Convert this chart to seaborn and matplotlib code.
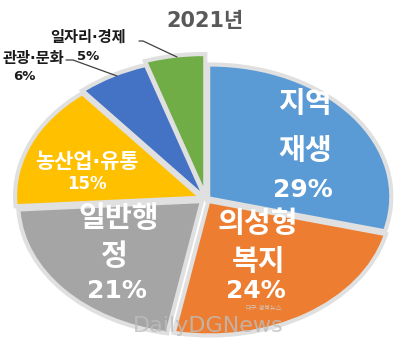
import numpy as np
import pandas as pd
import matplotlib
matplotlib.use('Agg')
import matplotlib.pyplot as plt
import seaborn as sns
from matplotlib.lines import Line2D

# ---- data ----
categories = ['지역재생', '의성형복지', '일반행정', '농산업·유통', '관광·문화', '일자리·경제']
values = [29, 24, 21, 15, 6, 5]
label_lines = [['지역', '재생'], ['의성형', '복지'], ['일반행', '정'], ['농산업·유통'], ['관광·문화'], ['일자리·경제']]
title = '2021년'
colors = ['#5B9BD5', '#ED7D31', '#A5A5A5', '#FFC000', '#4472C4', '#70AD47']

sns.set_theme(style='white')
plt.rcParams['font.family'] = ['DejaVu Sans', 'Noto Sans CJK KR']

W, H = 414, 352
fig = plt.figure(figsize=(W / 100, H / 100), dpi=100)
fig.patch.set_facecolor('white')
ax = fig.add_axes([0, 0, 1, 1])

df = pd.DataFrame({'category': categories, 'value': values})
explode = [0.03, 0.04, 0.05, 0.06, 0.07, 0.10]

# soft shadow layer
ax.pie(df['value'], explode=explode, startangle=90, counterclock=False,
       colors=['#d8d8d8'] * len(df), wedgeprops=dict(linewidth=6, edgecolor='#e0e0e0'))
# main pie
ax.pie(df['value'], explode=explode, startangle=90, counterclock=False,
       colors=colors, wedgeprops=dict(linewidth=0))

# stretched (elliptic) pie as in the reference
rx, ry, cx, cy = 179.0, 130.0, 206.0, 199.0
ax.set_aspect('auto')
ax.set_xlim(-cx / rx, (W - cx) / rx)
ax.set_ylim(-(H - cy) / ry, cy / ry)
ax.axis('off')


def fp(x, y):
    return x / W, 1 - y / H


pct = [f'{v}%' for v in df['value']]

# title
fig.text(*fp(205, 21), title, ha='center', va='center', fontsize=15,
         fontweight='bold', color='#595959')

# inside labels (white)
big = dict(ha='center', va='center', color='white', fontweight='bold')
# 지역재생
fig.text(*fp(305, 104), label_lines[0][0], fontsize=21, **big)
fig.text(*fp(305, 151), label_lines[0][1], fontsize=21, **big)
fig.text(*fp(303, 190), pct[0], fontsize=18, **big)
# 의성형복지
fig.text(*fp(258, 224), label_lines[1][0], fontsize=21, **big)
fig.text(*fp(259, 262), label_lines[1][1], fontsize=21, **big)
fig.text(*fp(256, 291), pct[1], fontsize=18, **big)
# 일반행정
fig.text(*fp(119, 219), label_lines[2][0], fontsize=21, **big)
fig.text(*fp(114, 257), label_lines[2][1], fontsize=21, **big)
fig.text(*fp(117, 291), pct[2], fontsize=18, **big)
# 농산업·유통
fig.text(*fp(87, 162), label_lines[3][0], fontsize=15, **big)
fig.text(*fp(87, 184), pct[3], fontsize=12, **big)

# outside labels (black)
small = dict(va='center', color='#1a1a1a', fontweight='bold')
fig.text(*fp(64, 58), label_lines[4][0], fontsize=11, ha='right', **small)
fig.text(*fp(24, 77), pct[4], fontsize=9.5, ha='center', **small)
fig.text(*fp(88, 37), label_lines[5][0], fontsize=11, ha='center', **small)
fig.text(*fp(88, 57), pct[5], fontsize=9.5, ha='center', **small)

# leader lines
for pts in ([(66, 60), (73, 60), (117, 76)], [(139, 41), (143, 41), (177, 57)]):
    xs = [p[0] / W for p in pts]
    ys = [1 - p[1] / H for p in pts]
    fig.add_artist(Line2D(xs, ys, transform=fig.transFigure, color='#404040', lw=0.9))

# watermark
fig.text(*fp(208, 326), 'DailyDGNews', ha='center', va='center', fontsize=16,
         color='#bdbdbd', alpha=0.8)
fig.text(*fp(264, 308), '대구·경북뉴스', ha='center', va='center', fontsize=4.5,
         color='#d0d0d0', alpha=0.9)

fig.savefig('out.png', dpi=100)
